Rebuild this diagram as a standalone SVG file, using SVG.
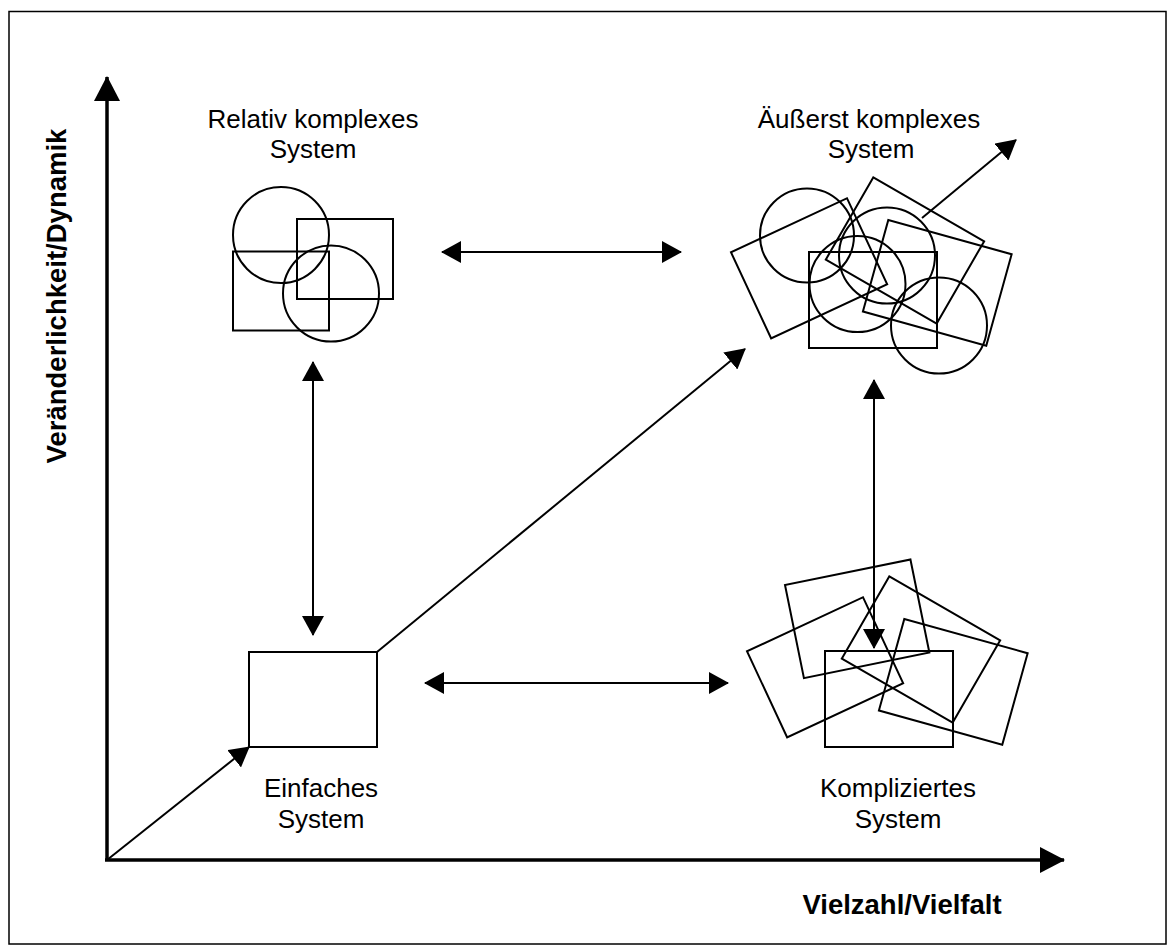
<svg xmlns="http://www.w3.org/2000/svg" width="1168" height="946" viewBox="0 0 1168 946">
  <style>
    .shape { fill: none; stroke: #000; stroke-width: 2; }
    .link { fill: none; stroke: #000; stroke-width: 2; }
    .axis { fill: none; stroke: #000; stroke-width: 3.5; }
    .label { font-family: "Liberation Sans", Arial, sans-serif; font-size: 26px; fill: #000; text-anchor: middle; }
    .axis-label { font-family: "Liberation Sans", Arial, sans-serif; font-size: 27.5px; font-weight: bold; fill: #000; text-anchor: middle; }
  </style>
  <defs>
    <marker id="head" viewBox="0 0 20 22" refX="19" refY="11" markerWidth="20" markerHeight="22" markerUnits="userSpaceOnUse" orient="auto-start-reverse">
      <path d="M0,0 L20,11 L0,22 Z" fill="#000"/>
    </marker>
    <marker id="axis-head" viewBox="0 0 25 26" refX="24" refY="13" markerWidth="25" markerHeight="26" markerUnits="userSpaceOnUse" orient="auto">
      <path d="M0,0 L25,13 L0,26 Z" fill="#000"/>
    </marker>
  </defs>

  <rect x="0" y="0" width="1168" height="946" fill="#fff"/>
  <!-- outer frame -->
  <rect x="9" y="11.5" width="1157" height="932.5" fill="none" stroke="#000" stroke-width="1.5"/>

  <!-- axes -->
  <g id="axes">
    <line class="axis" x1="107" y1="861" x2="107" y2="77" marker-end="url(#axis-head)"/>
    <line class="axis" x1="105" y1="860" x2="1064" y2="860" marker-end="url(#axis-head)"/>
    <text class="axis-label" transform="translate(66,296) rotate(-90)">Veränderlichkeit/Dynamik</text>
    <text class="axis-label" x="902" y="914">Vielzahl/Vielfalt</text>
  </g>

  <!-- simple system -->
  <g id="einfaches-system">
    <rect class="shape" x="249" y="652" width="128" height="95"/>
    <text class="label" x="321" y="797">Einfaches</text>
    <text class="label" x="321" y="828">System</text>
  </g>

  <!-- relatively complex system -->
  <g id="relativ-komplexes-system">
    <circle class="shape" cx="281" cy="235" r="48"/>
    <rect class="shape" x="297" y="219" width="96" height="80"/>
    <rect class="shape" x="233" y="251.5" width="96" height="79"/>
    <circle class="shape" cx="331" cy="293.5" r="48"/>
    <text class="label" x="313" y="128">Relativ komplexes</text>
    <text class="label" x="313" y="158">System</text>
  </g>

  <!-- complicated system -->
  <g id="kompliziertes-system">
    <rect class="shape" x="0" y="0" width="128" height="95" transform="translate(785,585) rotate(-11.5)"/>
    <rect class="shape" x="0" y="0" width="128" height="95" transform="translate(747,651.3) rotate(-25)"/>
    <rect class="shape" x="0" y="0" width="128" height="95" transform="translate(889.3,576.3) rotate(30)"/>
    <rect class="shape" x="0" y="0" width="128" height="95" transform="translate(904.3,619) rotate(15.5)"/>
    <rect class="shape" x="825" y="651" width="128" height="96"/>
    <text class="label" x="898" y="797">Kompliziertes</text>
    <text class="label" x="898" y="828">System</text>
  </g>

  <!-- extremely complex system -->
  <g id="aeusserst-komplexes-system">
    <circle class="shape" cx="807" cy="235.5" r="47"/>
    <rect class="shape" x="0" y="0" width="128" height="95" transform="translate(731,252.3) rotate(-25)"/>
    <rect class="shape" x="0" y="0" width="128" height="95" transform="translate(873.3,177.3) rotate(30)"/>
    <rect class="shape" x="0" y="0" width="128" height="95" transform="translate(888.3,220) rotate(15.5)"/>
    <rect class="shape" x="809" y="252" width="128" height="96"/>
    <circle class="shape" cx="887" cy="255.5" r="48"/>
    <circle class="shape" cx="857.5" cy="284" r="48"/>
    <circle class="shape" cx="939" cy="325.5" r="48"/>
    <text class="label" x="869" y="128">Äußerst komplexes</text>
    <text class="label" x="871" y="158">System</text>
  </g>

  <!-- connectors -->
  <g id="connectors">
    <line class="link" x1="442" y1="252" x2="681" y2="252" marker-start="url(#head)" marker-end="url(#head)"/>
    <line class="link" x1="425" y1="683" x2="728" y2="683" marker-start="url(#head)" marker-end="url(#head)"/>
    <line class="link" x1="313" y1="362" x2="313" y2="635" marker-start="url(#head)" marker-end="url(#head)"/>
    <line class="link" x1="874" y1="380" x2="874" y2="648" marker-start="url(#head)" marker-end="url(#head)"/>
    <line class="link" x1="107" y1="860" x2="249" y2="747" marker-end="url(#head)"/>
    <line class="link" x1="377" y1="652" x2="745" y2="349" marker-end="url(#head)"/>
    <line class="link" x1="922" y1="218" x2="1016" y2="140" marker-end="url(#head)"/>
  </g>
</svg>
